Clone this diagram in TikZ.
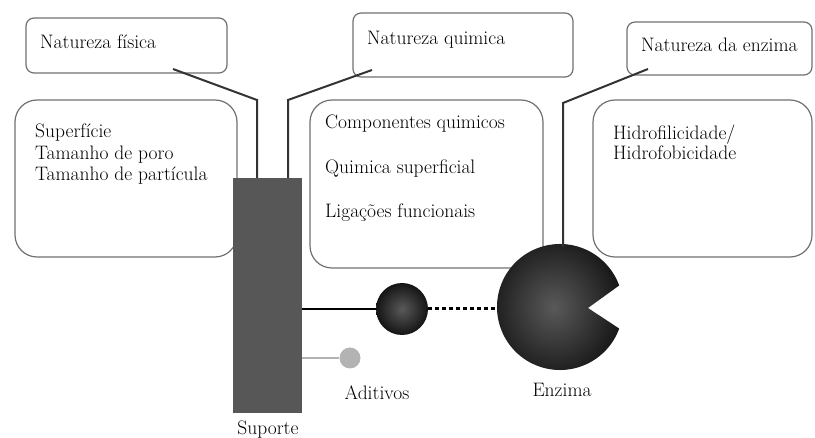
\documentclass[tikz,border=0pt]{standalone}
\usepackage{tikz}

\definecolor{boxgray}{HTML}{707070}
\definecolor{linkgray}{HTML}{333333}
\definecolor{supgray}{HTML}{575757}
\definecolor{addgray}{HTML}{B3B3B3}

\begin{document}
\begin{tikzpicture}[x=1pt,y=-1pt,
  font=\fontsize{19.5}{21.5}\selectfont,
  tbox/.style={draw=boxgray,line width=1.2pt,rounded corners=8pt,inner sep=0pt},
  bbox/.style={draw=boxgray,line width=1.2pt,rounded corners=22pt,inner sep=0pt},
  link/.style={linkgray,line width=2pt},
  txt/.style={inner sep=0pt,align=left}]
\useasboundingbox (0,0) rectangle (815,438);
% boxes
\node[tbox,minimum width=201,minimum height=55] (fis) at (126.5,45.5) {};
\node[tbox,minimum width=220,minimum height=64] (qui) at (463,45) {};
\node[tbox,minimum width=185,minimum height=53] (nenz) at (719.5,48.5) {};
\node[bbox,minimum width=222,minimum height=157] (fisbig) at (126,178.5) {};
\node[bbox,minimum width=233,minimum height=168] (quibig) at (426.5,184) {};
\node[bbox,minimum width=219,minimum height=157] (enzbig) at (702.5,178.5) {};
\node[txt,anchor=base west] (fist) at (40,49) {Natureza física};
\node[txt,anchor=base west] (quit) at (367,45) {Natureza quimica};
\node[txt,anchor=base west] (enzt) at (641,52) {Natureza da enzima};
\node[txt,anchor=north west] (fisl) at (35,124) {Superfície\\Tamanho de poro\\Tamanho de partícula};
\node[txt,anchor=north west,font=\fontsize{19.5}{44.5}\selectfont] (quil) at (325,115) {Componentes quimicos\\Quimica superficial\\Ligações funcionais};
\node[txt,anchor=north west,font=\fontsize{19.5}{19.5}\selectfont] (enzl) at (613,125) {Hidrofilicidade/\\Hidrofobicidade};
% support, linker, additive, enzyme
\node[fill=supgray,inner sep=0pt,minimum width=69,minimum height=235] (sup) at (267.5,295.5) {};
\node[circle,inner sep=0pt,minimum size=52,inner color=black!65,outer color=black!92] (lig) at (402,309) {};
\node[circle,inner sep=0pt,minimum size=21,fill=addgray] (add) at (350,358) {};
\node[circle,inner sep=0pt,minimum size=124] (enz) at (560,307) {};
\shade[inner color=black!65,outer color=black!90] (enz.center) +(20:63) arc[start angle=20,end angle=340,radius=63] -- (588,308) -- cycle;
\node[anchor=base] (supl) at (268,435) {Suporte};
\node[anchor=base] (addl) at (377,400) {Aditivos};
\node[anchor=base] (enzn) at (562,397) {Enzima};
% connectors
\coordinate (fisk) at (173,69);
\coordinate (quik) at (372,70);
\coordinate (enzk) at (648,69);
\draw[link] (fisk) -- (257,100) -- (257,178);
\draw[link] (quik) -- (288,100) -- (288,178);
\draw[link] (enzk) -- (563,103) -- (563,247);
\draw[black,line width=2pt] (sup.east |- lig) -- (lig.west);
\draw[black,line width=3pt,dash pattern=on 3.5pt off 3.5pt] (lig.east) -- (lig.east -| enz.west);
\draw[addgray,line width=2pt] (sup.east |- add) -- (add.west);
\end{tikzpicture}
\end{document}
